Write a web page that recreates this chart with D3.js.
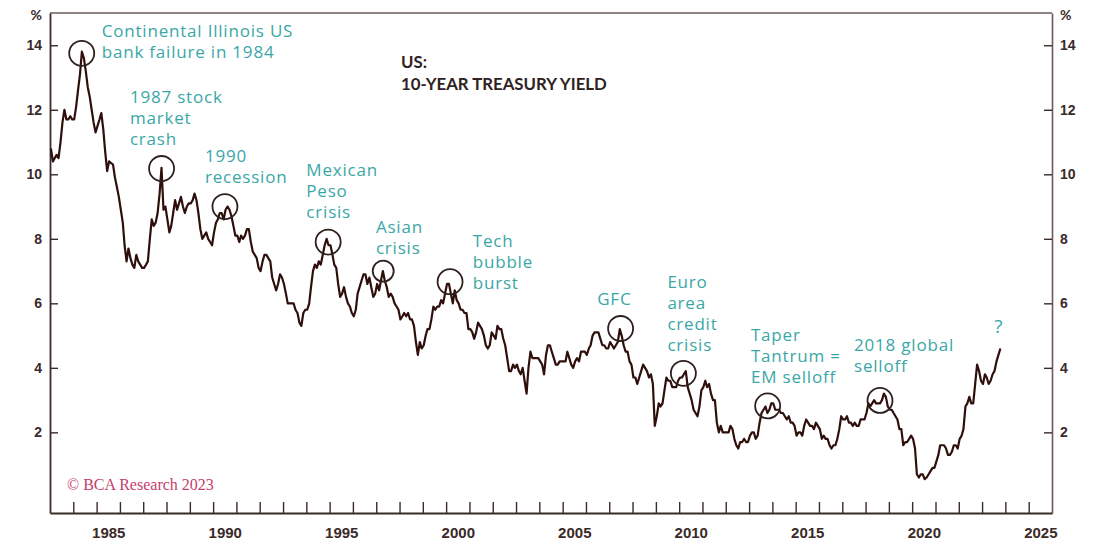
<!DOCTYPE html>
<html>
<head>
<meta charset="utf-8">
<script src="https://cdn.jsdelivr.net/npm/d3@7"></script>
<style>
  body { margin: 0; background: #fff; }
  svg { display: block; font-family: Lato, "Open Sans", sans-serif; }
</style>
</head>
<body>
<div id="chart"></div>
<script>
// monthly 10-year yield, Jan 1983 .. Oct 2023
const startYear = 1983;
const yields = [
  10.8, 10.4, 10.5, 10.6, 10.5, 11.0, 11.6, 12.0, 11.7, 11.7, 11.8, 11.7, // 1983
  11.7, 12.1, 12.6, 13.1, 13.8, 13.6, 13.2, 12.7, 12.4, 12.0, 11.6, 11.3, // 1984
  11.5, 11.7, 11.9, 11.4, 10.7, 10.1, 10.4, 10.35, 10.3, 9.9, 9.6, 9.3,   // 1985
  8.9, 8.5, 7.8, 7.3, 7.7, 7.4, 7.2, 7.1, 7.5, 7.3, 7.2, 7.1,             // 1986
  7.1, 7.2, 7.3, 8.0, 8.6, 8.4, 8.5, 8.8, 9.4, 10.2, 8.9, 9.0,            // 1987
  8.6, 8.2, 8.4, 8.8, 9.2, 8.9, 9.1, 9.3, 9.0, 8.8, 9.0, 9.1,             // 1988
  9.1, 9.2, 9.4, 9.2, 8.8, 8.3, 8.0, 8.1, 8.2, 8.0, 7.9, 7.8,             // 1989
  8.2, 8.5, 8.6, 8.8, 8.8, 8.6, 8.9, 9.0, 8.9, 8.7, 8.4, 8.1,             // 1990
  8.1, 7.9, 8.1, 8.0, 8.1, 8.3, 8.3, 7.9, 7.6, 7.5, 7.4, 7.1,             // 1991
  7.0, 7.3, 7.5, 7.5, 7.4, 7.3, 6.8, 6.6, 6.4, 6.6, 6.9, 6.8,             // 1992
  6.6, 6.3, 6.0, 6.0, 6.0, 6.0, 5.8, 5.7, 5.4, 5.3, 5.7, 5.8,             // 1993
  5.8, 6.0, 6.5, 7.0, 7.2, 7.1, 7.3, 7.2, 7.5, 7.8, 8.0, 7.8,             // 1994
  7.8, 7.5, 7.2, 7.1, 6.6, 6.2, 6.3, 6.5, 6.2, 6.0, 5.9, 5.7,             // 1995
  5.6, 5.8, 6.3, 6.5, 6.7, 6.9, 6.9, 6.6, 6.8, 6.5, 6.2, 6.3,             // 1996
  6.6, 6.4, 6.7, 7.0, 6.7, 6.5, 6.2, 6.3, 6.2, 6.0, 5.9, 5.8,             // 1997
  5.5, 5.6, 5.7, 5.6, 5.7, 5.5, 5.5, 5.3, 4.8, 4.4, 4.8, 4.6,             // 1998
  4.7, 5.0, 5.2, 5.2, 5.5, 5.9, 5.8, 5.9, 5.9, 6.1, 6.0, 6.3,             // 1999
  6.6, 6.6, 6.3, 6.0, 6.4, 6.1, 6.0, 5.8, 5.8, 5.7, 5.7, 5.2,             // 2000
  5.2, 5.1, 4.9, 5.1, 5.4, 5.3, 5.2, 5.0, 4.7, 4.6, 4.7, 5.1,             // 2001
  5.0, 4.9, 5.3, 5.2, 5.2, 4.9, 4.7, 4.3, 3.9, 3.9, 4.1, 4.0,             // 2002
  4.1, 3.9, 3.8, 4.0, 3.6, 3.2, 4.0, 4.5, 4.3, 4.3, 4.3, 4.3,             // 2003
  4.2, 4.1, 3.8, 4.4, 4.7, 4.7, 4.5, 4.3, 4.1, 4.1, 4.2, 4.2,             // 2004
  4.2, 4.2, 4.5, 4.3, 4.1, 4.0, 4.2, 4.3, 4.2, 4.5, 4.5, 4.5,             // 2005
  4.4, 4.6, 4.7, 5.0, 5.1, 5.1, 5.1, 4.9, 4.7, 4.7, 4.6, 4.6,             // 2006
  4.8, 4.7, 4.6, 4.7, 4.8, 5.2, 5.0, 4.7, 4.5, 4.5, 4.2, 4.1,             // 2007
  3.7, 3.7, 3.5, 3.7, 3.9, 4.1, 4.0, 3.9, 3.7, 3.8, 3.5, 2.2,             // 2008
  2.5, 2.9, 2.8, 2.9, 3.3, 3.7, 3.6, 3.6, 3.4, 3.4, 3.4, 3.6,             // 2009
  3.7, 3.7, 3.8, 3.9, 3.4, 3.2, 3.0, 2.7, 2.6, 2.5, 2.8, 3.3,             // 2010
  3.4, 3.6, 3.4, 3.5, 3.2, 3.0, 3.0, 2.3, 2.0, 2.2, 2.0, 2.0,             // 2011
  2.0, 2.0, 2.2, 2.1, 1.8, 1.6, 1.5, 1.7, 1.7, 1.8, 1.7, 1.7,             // 2012
  1.9, 2.0, 2.0, 1.8, 1.9, 2.3, 2.6, 2.7, 2.8, 2.6, 2.7, 2.9,             // 2013
  2.9, 2.7, 2.7, 2.7, 2.6, 2.6, 2.5, 2.4, 2.5, 2.3, 2.3, 2.2,             // 2014
  1.9, 2.0, 2.0, 1.9, 2.2, 2.4, 2.3, 2.2, 2.2, 2.1, 2.3, 2.2,             // 2015
  2.1, 1.8, 1.9, 1.8, 1.8, 1.6, 1.5, 1.6, 1.6, 1.8, 2.1, 2.5,             // 2016
  2.4, 2.4, 2.5, 2.3, 2.3, 2.2, 2.3, 2.2, 2.2, 2.4, 2.4, 2.4,             // 2017
  2.6, 2.9, 2.8, 2.9, 3.0, 2.9, 2.9, 2.9, 3.0, 3.2, 3.1, 2.8,             // 2018
  2.7, 2.7, 2.6, 2.5, 2.4, 2.1, 2.1, 1.6, 1.7, 1.7, 1.8, 1.9,             // 2019
  1.8, 1.5, 0.7, 0.6, 0.7, 0.7, 0.55, 0.6, 0.7, 0.8, 0.9, 0.9,           // 2020
  1.1, 1.3, 1.6, 1.6, 1.6, 1.5, 1.3, 1.3, 1.4, 1.6, 1.6, 1.5,             // 2021
  1.8, 1.9, 2.1, 2.8, 2.9, 3.1, 2.9, 2.9, 3.5, 4.1, 3.9, 3.6,             // 2022
  3.5, 3.8, 3.7, 3.5, 3.6, 3.8, 3.9, 4.2, 4.4, 4.6                        // 2023
];
const months = yields.map((v, i) => new Date(startYear, i, 15));

// axes
const yTicks = [2, 4, 6, 8, 10, 12, 14];
const yearTicks = d3.range(1984, 2026);
const yearLabels = [1985, 1990, 1995, 2000, 2005, 2010, 2015, 2020, 2025];

// circled events
const eventLabels = [
  ["Continental Illinois US", "bank failure in 1984"],
  ["1987 stock", "market", "crash"],
  ["1990", "recession"],
  ["Mexican", "Peso", "crisis"],
  ["Asian", "crisis"],
  ["Tech", "bubble", "burst"],
  ["GFC"],
  ["Euro", "area", "credit", "crisis"],
  ["Taper", "Tantrum =", "EM selloff"],
  ["2018 global", "selloff"]
];
const eventDates = ["1984-05-12", "1987-10-16", "1990-07-05", "1994-12-09", "1997-04-20",
  "2000-03-03", "2007-06-28", "2010-03-08", "2013-10-19", "2018-08-15"];
const eventYields = [13.75, 10.18, 9.0, 7.9, 7.0, 6.67, 5.22, 3.83, 2.82, 2.99];

// label placement relative to circle (px)
const labelOffsets = [[20, -16.6], [-31.7, -65.6], [-20, -45], [-21.8, -66.3], [-7.3, -38.3],
  [22.7, -34.7], [-23.4, -23.8], [-16, -85.6], [-16.7, -65], [-26, -49]];
const circleR = [12.5, 12.5, 12.5, 12.5, 10.5, 12.5, 12.5, 12.5, 12.5, 12.5];

const width = 1100, height = 555;
const plotL = 50, plotR = 1052, plotT = 13, plotB = 513;
const teal = "#3aa7a6", ink = "#3a2a28";

const svg = d3.select("#chart").append("svg").attr("width", width).attr("height", height);

const x = d3.scaleTime().domain([new Date(1983, 0, 1), new Date(2026, 0, 1)]).range([plotL, plotR]);
const y = d3.scaleLinear().domain([-0.5, 15]).range([plotB, plotT]);

//frame top
svg.append("line").attr("x1", plotL).attr("x2", plotR).attr("y1", plotT).attr("y2", plotT)
  .attr("stroke", "#6a5a57").attr("stroke-width", 1.6);

//left + right axis
const yl = svg.append("g").attr("transform", `translate(${plotL},0)`)
  .call(d3.axisLeft(y).tickValues(yTicks).tickSize(-8).tickSizeOuter(0).tickPadding(8));
const yr = svg.append("g").attr("transform", `translate(${plotR},0)`)
  .call(d3.axisRight(y).tickValues(yTicks).tickSize(-8).tickSizeOuter(0).tickPadding(8));
[yl, yr].forEach(g => {
  g.select(".domain").attr("stroke", ink).attr("stroke-width", 1.8);
  g.selectAll(".tick line").attr("stroke", ink).attr("stroke-width", 1.4);
  g.selectAll(".tick text").attr("fill", ink).style("font-size", "14px").style("font-weight", "bold");
});
yr.select(".domain").attr("stroke", "#6a5a57").attr("stroke-width", 1.6);

//bottom axis ticks
const xb = svg.append("g").attr("transform", `translate(0,${plotB})`)
  .call(d3.axisBottom(x).tickValues(yearTicks.map(d => new Date(d, 0, 1))).tickSize(-11).tickSizeOuter(0).tickFormat(""));
xb.select(".domain").attr("stroke", ink).attr("stroke-width", 2);
xb.selectAll(".tick line").attr("stroke", ink).attr("stroke-width", 1.4);

//year labels centred in the year
const xl = svg.append("g").attr("transform", `translate(0,${plotB})`)
  .call(d3.axisBottom(x).tickValues(yearLabels.map(d => new Date(d, 6, 2))).tickSize(0).tickPadding(14).tickFormat(d3.timeFormat("%Y")));
xl.select(".domain").remove();
xl.selectAll(".tick text").attr("fill", ink).style("font-size", "15px").style("font-weight", "bold");

// % markers
svg.append("text").attr("x", 42).attr("y", 20).attr("text-anchor", "end").attr("fill", ink)
  .style("font-size", "14px").style("font-weight", "bold").text("%");
svg.append("text").attr("x", 1060).attr("y", 20).attr("fill", ink)
  .style("font-size", "14px").style("font-weight", "bold").text("%");

//the yield line
const line = d3.line().x((d, i) => x(months[i])).y(d => y(d));
svg.append("path").datum(yields).attr("d", line).attr("fill", "none")
  .attr("stroke", "#2e0f0b").attr("stroke-width", 2.2).attr("stroke-linejoin", "round");

//event circles and labels
const parse = d3.timeParse("%Y-%m-%d");
eventLabels.forEach((lines, i) => {
  const cx = x(parse(eventDates[i])), cy = y(eventYields[i]);
  svg.append("circle").attr("cx", cx).attr("cy", cy).attr("r", circleR[i])
    .attr("fill", "none").attr("stroke", "#2e201d").attr("stroke-width", 1.8);
  const t = svg.append("text").attr("fill", teal)
    .style("font-family", "'Open Sans', sans-serif").style("font-size", "17px").style("letter-spacing", "0.8px");
  lines.forEach((s, j) => {
    t.append("tspan").attr("x", cx + labelOffsets[i][0]).attr("y", cy + labelOffsets[i][1] + j * 21).text(s);
  });
});

// question mark at the last point
const last = yields.length - 1;
svg.append("text").attr("x", x(months[last]) - 2).attr("y", y(yields[last]) - 15)
  .attr("text-anchor", "middle").attr("fill", teal)
  .style("font-family", "'Open Sans', sans-serif").style("font-size", "19px").text("?");

//title
const title = svg.append("text").attr("fill", "#2e2222").style("font-size", "16.8px").style("font-weight", "bold");
title.append("tspan").attr("x", 401).attr("y", 68).text("US:");
title.append("tspan").attr("x", 401).attr("y", 90).text("10-YEAR TREASURY YIELD");

//copyright
svg.append("text").attr("x", 67).attr("y", 490).attr("fill", "#c4406c")
  .style("font-family", "'Liberation Serif', 'DejaVu Serif', serif").style("font-size", "16px")
  .text("© BCA Research 2023");
</script>
</body>
</html>
